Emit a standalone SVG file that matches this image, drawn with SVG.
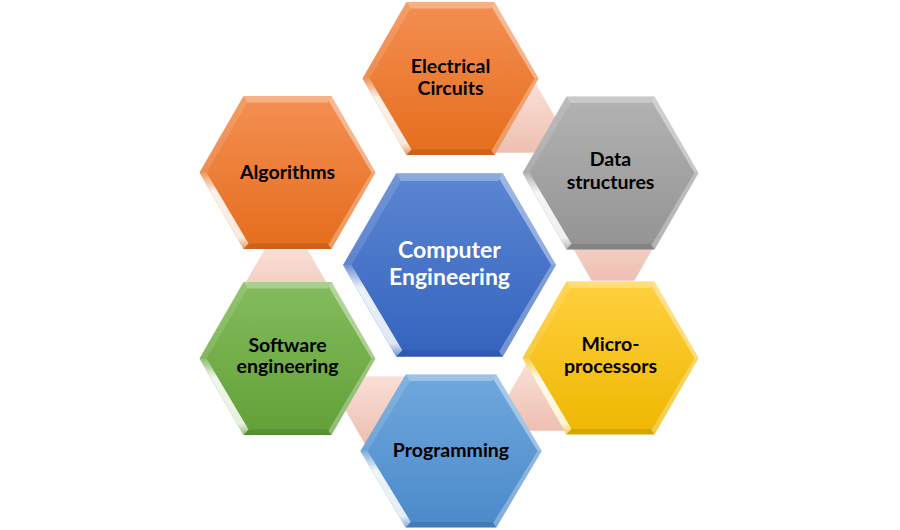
<svg xmlns="http://www.w3.org/2000/svg" width="900" height="530" viewBox="0 0 900 530">
  <defs>
    <style>
      .lbl { font-family: Lato, "Open Sans", "Liberation Sans", sans-serif; font-weight: 700; font-size: 19.5px; fill: #000; text-anchor: middle; }
      .lblc { font-family: Lato, "Open Sans", "Liberation Sans", sans-serif; font-weight: 700; font-size: 23px; fill: #fff; text-anchor: middle; }
      .f-top { fill: #fff; fill-opacity: 0.3; }
      .f-ul { fill: #fff; fill-opacity: 0.12; }
      .f-ur { fill: #fff; fill-opacity: 0.4; }
      .f-lr { fill: #fff; fill-opacity: 0.3; }
      .f-bot { fill: #000; fill-opacity: 0.1; }
      .f-ll { fill: url(#hl); }
      .conn { fill: url(#gPink); stroke: #fff; stroke-opacity: 0.6; stroke-width: 1; }
    </style>
    <linearGradient id="hl" x1="0" y1="0" x2="0" y2="1">
      <stop offset="0" stop-color="#fff" stop-opacity="0.2"/>
      <stop offset="0.25" stop-color="#fff" stop-opacity="0.9"/>
      <stop offset="0.85" stop-color="#fff" stop-opacity="0.85"/>
      <stop offset="1" stop-color="#fff" stop-opacity="0.3"/>
    </linearGradient>
    <linearGradient id="gPink" x1="0" y1="0" x2="0" y2="1">
      <stop offset="0" stop-color="#fadfd7"/>
      <stop offset="1" stop-color="#edbfb1"/>
    </linearGradient>
    <linearGradient id="gOrange" x1="0" y1="0" x2="0" y2="1">
      <stop offset="0" stop-color="#f48f52"/>
      <stop offset="1" stop-color="#e56d1d"/>
    </linearGradient>
    <linearGradient id="gGray" x1="0" y1="0" x2="0" y2="1">
      <stop offset="0" stop-color="#b3b3b3"/>
      <stop offset="1" stop-color="#939393"/>
    </linearGradient>
    <linearGradient id="gBlue" x1="0" y1="0" x2="0" y2="1">
      <stop offset="0" stop-color="#5c86d2"/>
      <stop offset="1" stop-color="#3463bf"/>
    </linearGradient>
    <linearGradient id="gYellow" x1="0" y1="0" x2="0" y2="1">
      <stop offset="0" stop-color="#ffd040"/>
      <stop offset="1" stop-color="#efb700"/>
    </linearGradient>
    <linearGradient id="gLBlue" x1="0" y1="0" x2="0" y2="1">
      <stop offset="0" stop-color="#70a8dd"/>
      <stop offset="1" stop-color="#4b89ca"/>
    </linearGradient>
    <linearGradient id="gGreen" x1="0" y1="0" x2="0" y2="1">
      <stop offset="0" stop-color="#84bc5d"/>
      <stop offset="1" stop-color="#62a037"/>
    </linearGradient>
    <g id="bevel">
      <polygon class="f-top" points="-44,-76.5 44,-76.5 40,-70 -40,-70"/>
      <polygon class="f-ul" points="-88,0 -44,-76.5 -40,-70 -81,0"/>
      <polygon class="f-ur" points="44,-76.5 88,0 84,0 41,-72"/>
      <polygon class="f-lr" points="88,0 44,76.5 41,72 84,0"/>
      <polygon class="f-bot" points="44,76.5 -44,76.5 -40,71 40,71"/>
      <polygon class="f-ll" points="-88,0 -81,0 -39,71 -44,76.5"/>
    </g>
    <polygon id="hex" points="-88,0 -44,-76.5 44,-76.5 88,0 44,76.5 -44,76.5"/>
    <polygon id="chex" points="-41,0 -21.5,-34 21.5,-34 41,0 21.5,34 -21.5,34"/>
  </defs>

  <rect width="900" height="530" fill="#fff"/>

  <g id="connectors">
    <use href="#chex" class="conn" transform="translate(515.5,119)"/>
    <use href="#chex" class="conn" transform="translate(613,247)"/>
    <use href="#chex" class="conn" transform="translate(548,397)"/>
    <use href="#chex" class="conn" transform="translate(386,410)"/>
    <use href="#chex" class="conn" transform="translate(286,283)"/>
  </g>

  <g id="electrical" transform="translate(450.5,78.5)">
    <use href="#hex" fill="url(#gOrange)"/>
    <use href="#bevel"/>
    <text class="lbl" x="0" y="-5.5">Electrical</text>
    <text class="lbl" x="0" y="16.5">Circuits</text>
  </g>

  <g id="algorithms" transform="translate(287.5,172.5)">
    <use href="#hex" fill="url(#gOrange)"/>
    <use href="#bevel"/>
    <text class="lbl" x="0" y="6.5">Algorithms</text>
  </g>

  <g id="data" transform="translate(610.5,173)">
    <use href="#hex" fill="url(#gGray)"/>
    <use href="#bevel"/>
    <text class="lbl" x="0" y="-7">Data</text>
    <text class="lbl" x="0" y="16">structures</text>
  </g>

  <g id="micro" transform="translate(610.5,358)">
    <use href="#hex" fill="url(#gYellow)"/>
    <use href="#bevel"/>
    <text class="lbl" x="0" y="-7">Micro-</text>
    <text class="lbl" x="0" y="15">processors</text>
  </g>

  <g id="programming" transform="translate(451,451)">
    <g transform="scale(1.03,1)">
      <use href="#hex" fill="url(#gLBlue)"/>
      <use href="#bevel"/>
    </g>
    <text class="lbl" x="0" y="6">Programming</text>
  </g>

  <g id="software" transform="translate(287.5,358.5)">
    <use href="#hex" fill="url(#gGreen)"/>
    <use href="#bevel"/>
    <text class="lbl" x="0" y="-6.5">Software</text>
    <text class="lbl" x="0" y="14.5">engineering</text>
  </g>

  <g id="center" transform="translate(449.5,265)">
    <g transform="scale(1.21,1.2)">
      <use href="#hex" fill="url(#gBlue)"/>
      <use href="#bevel"/>
    </g>
    <text class="lblc" x="0" y="-7">Computer</text>
    <text class="lblc" x="0" y="20">Engineering</text>
  </g>
</svg>
